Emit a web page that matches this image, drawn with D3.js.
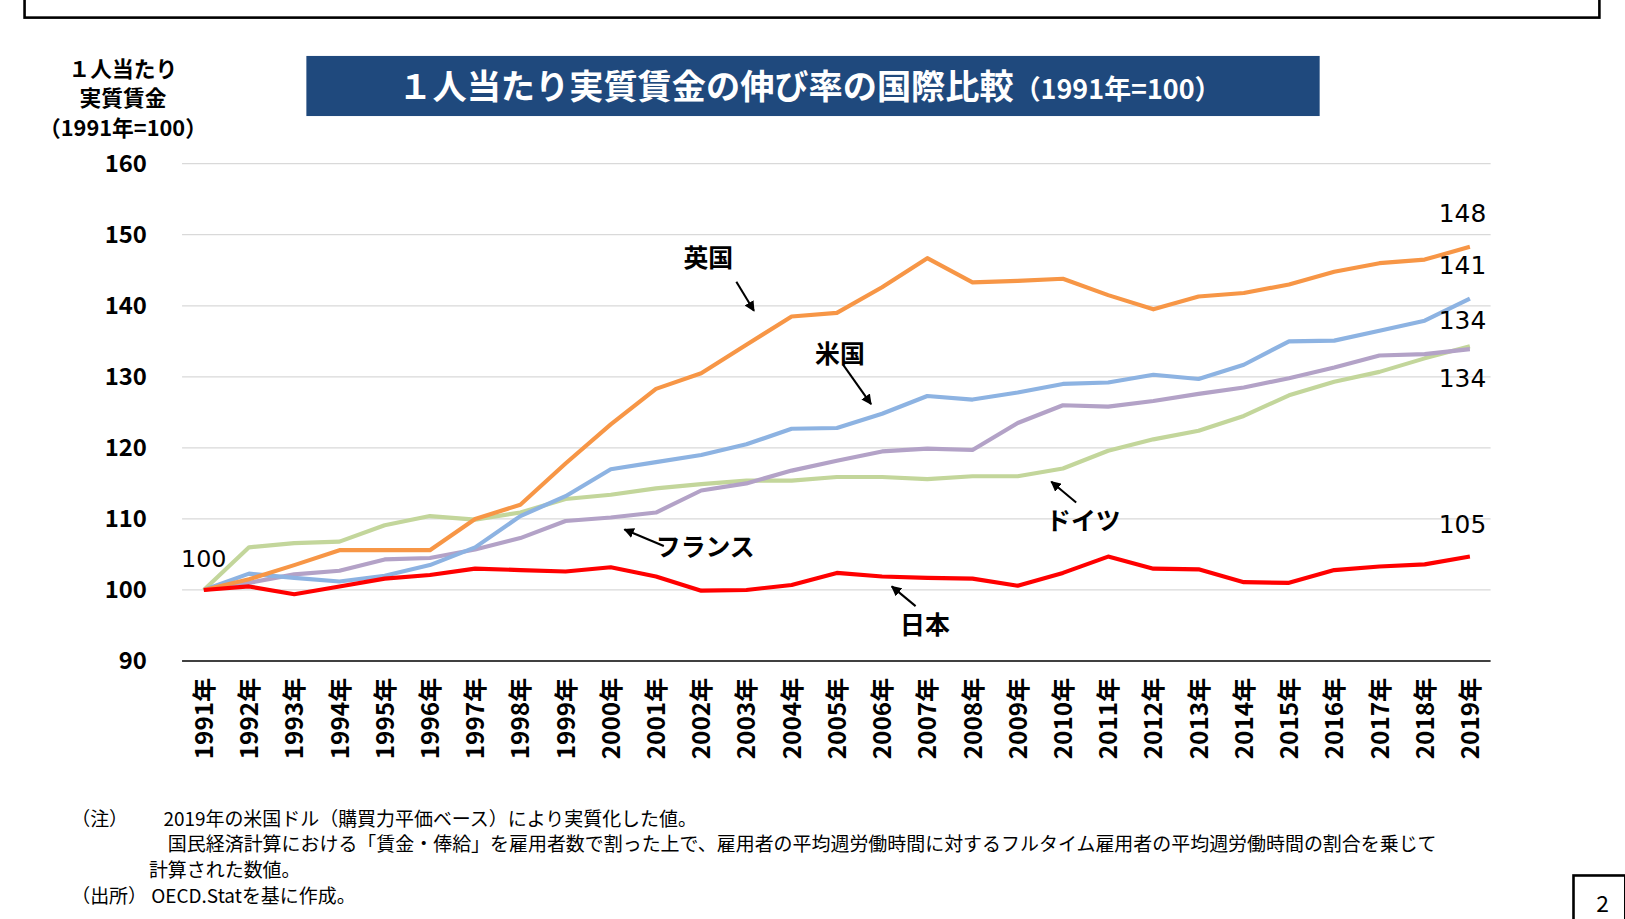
<!DOCTYPE html>
<html><head><meta charset="utf-8">
<script src="https://cdn.jsdelivr.net/npm/d3@7"></script>
<style>body{margin:0;background:#fff}svg{display:block}</style>
</head><body>
<script>
const years = d3.range(1991, 2020);
const yTicks = [90,100,110,120,130,140,150,160];
const uk = [100,101.5,103.5,105.6,105.6,105.6,110,112,117.8,123.3,128.3,130.5,134.5,138.5,139,142.6,146.7,143.3,143.5,143.8,141.5,139.5,141.3,141.8,143,144.8,146,146.5,148.3];
const us = [100,102.3,101.7,101.2,102,103.5,106,110.4,113.2,117,118,119,120.5,122.7,122.8,124.8,127.3,126.8,127.8,129,129.2,130.3,129.7,131.7,135,135.1,136.5,137.9,141];
const fr = [100,101,102.2,102.7,104.3,104.5,105.7,107.3,109.7,110.2,110.9,114,115,116.8,118.2,119.5,119.9,119.7,123.5,126,125.8,126.6,127.6,128.5,129.8,131.3,133,133.2,133.9];
const de = [100,106,106.6,106.8,109.1,110.4,109.9,110.9,112.8,113.4,114.3,114.9,115.4,115.4,115.9,115.9,115.6,116,116,117.1,119.6,121.2,122.4,124.5,127.4,129.3,130.7,132.6,134.3];
const jp = [100,100.5,99.4,100.5,101.6,102.1,103,102.8,102.6,103.2,101.9,99.9,100,100.7,102.4,101.9,101.7,101.6,100.6,102.4,104.7,103,102.9,101.1,101,102.8,103.3,103.6,104.7];
const series = [
 {name:"ドイツ", v:de, c:"#c3d69b"},
 {name:"フランス", v:fr, c:"#b3a2c7"},
 {name:"米国", v:us, c:"#8db3e2"},
 {name:"英国", v:uk, c:"#f79646"},
 {name:"日本", v:jp, c:"#ff0000"}
];
const endLabels = [["148",148,206],["141",141,256],["134",134,310],["134",134,366],["105",105,506]];

const svg = d3.select("body").append("svg").attr("width",1625).attr("height",919).attr("viewBox","0 0 1567 887");
const F = "'Noto Sans CJK JP','Noto Sans',sans-serif";
svg.append("rect").attr("x",23).attr("y",-5).attr("width",1520).attr("height",22).attr("fill","none").attr("stroke","#000").attr("stroke-width",2.5);
svg.append("rect").attr("x",1518).attr("y",845).attr("width",50).attr("height",50).attr("fill","none").attr("stroke","#000").attr("stroke-width",2.5);
svg.append("text").attr("x",1540).attr("y",880).attr("font-size",22).attr("font-family",F).text("2");

const x = d3.scalePoint().domain(years).range([196,1418]);
const y = d3.scaleLinear().domain([90,160]).range([638,158]);

svg.append("g").selectAll("line").data(yTicks).join("line")
 .attr("x1",175).attr("x2",1438).attr("y1",d=>y(d)).attr("y2",d=>y(d))
 .attr("stroke",d=>d===90?"#000":"#d9d9d9").attr("stroke-width",d=>d===90?1.5:1.2);

const ya = svg.append("g").attr("transform","translate(175,0)").call(d3.axisLeft(y).tickValues(yTicks).tickSize(0).tickPadding(34));
ya.select(".domain").remove();
ya.selectAll("text").attr("font-size",23).attr("font-weight","bold").attr("font-family",F).attr("fill","#000");

const xa = svg.append("g").attr("transform","translate(0,638)").call(d3.axisBottom(x).tickSize(0).tickFormat(d=>d+"年"));
xa.select(".domain").remove();
xa.selectAll("text").attr("font-size",23.5).attr("font-weight","bold").attr("font-family",F).attr("fill","#000")
 .attr("transform","rotate(-90)").attr("text-anchor","end").attr("x",-16).attr("y",0).attr("dy","0.35em");

const line = d3.line().x((d,i)=>x(years[i])).y(d=>y(d));
svg.append("g").selectAll("path").data(series).join("path")
 .attr("d",d=>line(d.v)).attr("fill","none").attr("stroke",d=>d.c).attr("stroke-width",4).attr("stroke-linejoin","round");

svg.append("g").selectAll("text").data(endLabels).join("text")
 .attr("x",1388).attr("y",d=>d[2]+8).attr("font-size",24).attr("font-family","'DejaVu Sans',sans-serif").attr("fill","#000").text(d=>d[0]);
svg.append("text").attr("x",174).attr("y",547).attr("font-size",23).attr("font-family","'DejaVu Sans',sans-serif").text("100");

// title
svg.append("rect").attr("x",295).attr("y",54).attr("width",978).attr("height",58).attr("fill","#1f497d");
const t = svg.append("text").attr("x",781).attr("y",96).attr("text-anchor","middle").attr("fill","#fff").attr("font-family",F).attr("font-weight","bold");
t.append("tspan").attr("font-size",33).text("１人当たり実質賃金の伸び率の国際比較");
t.append("tspan").attr("font-size",26).text("（1991年=100）");

// y-axis title
[["１人当たり",74],["実質賃金",102],["（1991年=100）",131]].forEach(([s,yy])=>{
 svg.append("text").attr("x",118).attr("y",yy).attr("text-anchor","middle").attr("font-size",21).attr("font-weight","bold").attr("font-family",F).text(s);
});

// annotations
svg.append("defs").append("marker").attr("id","ar").attr("viewBox","0 0 10 10").attr("refX",9).attr("refY",5)
 .attr("markerWidth",5).attr("markerHeight",5).attr("orient","auto").append("path").attr("d","M0,0L10,5L0,10z").attr("fill","#000");
const ann = [["英国",683,258,710,272,727,300],["米国",810,350,813,352,840,390],["フランス",680,537,640,527,602,511],["ドイツ",1045,512,1038,485,1014,465],["日本",892,612,883,585,860,566]];
ann.forEach(([s,tx,ty,x1,y1,x2,y2])=>{
 svg.append("text").attr("x",tx).attr("y",ty).attr("text-anchor","middle").attr("font-size",24).attr("font-weight","bold").attr("font-family",F).text(s);
 svg.append("line").attr("x1",x1).attr("y1",y1).attr("x2",x2).attr("y2",y2).attr("stroke","#000").attr("stroke-width",2).attr("marker-end","url(#ar)");
});

// notes
const notes = [[68,797,"（注）"],[157,797,"2019年の米国ドル（購買力平価ベース）により実質化した値。"],[143,821,"　国民経済計算における「賃金・俸給」を雇用者数で割った上で、雇用者の平均週労働時間に対するフルタイム雇用者の平均週労働時間の割合を乗じて"],[143,846,"計算された数値。"],[68,872,"（出所）  OECD.Statを基に作成。"]];
notes.forEach(([nx,ny,s])=>svg.append("text").attr("x",nx).attr("y",ny).attr("font-size",18.3).attr("font-family",F).text(s));
</script>
</body></html>
